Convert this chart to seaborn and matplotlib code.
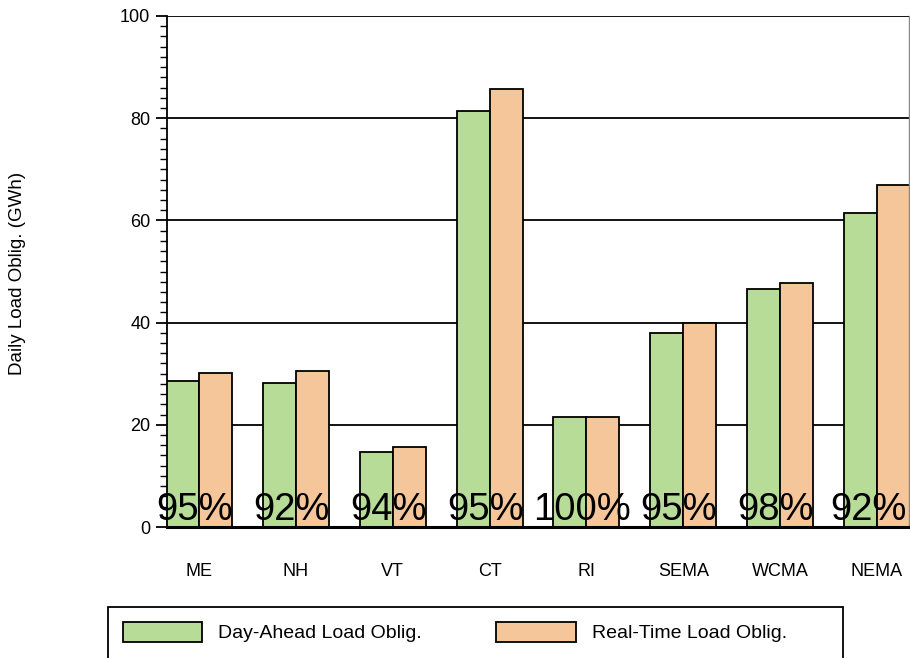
import matplotlib
matplotlib.use("Agg")
import matplotlib.pyplot as plt
from matplotlib.patches import Rectangle
from matplotlib.ticker import MultipleLocator
import seaborn as sns
import pandas as pd

zones = ["ME", "NH", "VT", "CT", "RI", "SEMA", "WCMA", "NEMA"]
day_ahead = [28.6, 28.2, 14.7, 81.4, 21.6, 37.9, 46.6, 61.4]
real_time = [30.1, 30.5, 15.6, 85.7, 21.6, 39.9, 47.7, 66.9]
pct_labels = ["95%", "92%", "94%", "95%", "100%", "95%", "98%", "92%"]
series = ["Day-Ahead Load Oblig.", "Real-Time Load Oblig."]
colors = ["#b7dc97", "#f5c69a"]

df = pd.DataFrame({
    "zone": zones * 2,
    "value": day_ahead + real_time,
    "series": [series[0]] * len(zones) + [series[1]] * len(zones),
})

sns.set_theme(style="white")
plt.rcParams["font.family"] = ["Liberation Sans", "DejaVu Sans"]
plt.rcParams["text.color"] = "black"
plt.rcParams["xtick.color"] = "black"
plt.rcParams["ytick.color"] = "black"

W, H = 910, 658
fig = plt.figure(figsize=(W / 100, H / 100), dpi=100)
ax = fig.add_axes([167 / W, 1 - 527 / H, (909 - 167) / W, (527 - 16) / H])

sns.barplot(data=df, x="zone", y="value", hue="series", palette=colors,
            order=zones, hue_order=series, width=0.68, gap=0,
            edgecolor="black", linewidth=1.3, saturation=1, ax=ax, legend=True)

ax.set_xlim(-0.33, 7.33)
ax.set_ylim(0, 100)
ax.yaxis.set_major_locator(MultipleLocator(20))
ax.yaxis.set_minor_locator(MultipleLocator(2))
ax.set_axisbelow(True)
ax.grid(axis="y", which="major", color="black", linewidth=1.3)
ax.grid(axis="x", visible=False)

ax.spines["top"].set_visible(False)
ax.spines["left"].set_color("black")
ax.spines["left"].set_linewidth(1.3)
ax.spines["bottom"].set_color("black")
ax.spines["bottom"].set_linewidth(2.2)
ax.spines["right"].set_color("#888888")
ax.spines["right"].set_linewidth(1.0)

ax.tick_params(axis="y", which="major", direction="out", length=8, width=1.3,
               colors="black", left=True, labelsize=13, pad=4)
ax.tick_params(axis="y", which="minor", direction="out", length=5, width=1.0,
               colors="black", left=True)
ax.tick_params(axis="x", length=0, labelsize=13, pad=26, colors="black")

ax.set_xlabel("")
ax.set_ylabel("")
fig.text(18 / W, 1 - 273 / H, "Daily Load Oblig. (GWh)", rotation=90,
         ha="center", va="center", fontsize=13.5, color="black")

# share-of-real-time labels sit at the foot of each zone's pair of bars
last = len(pct_labels) - 1
for i, lab in enumerate(pct_labels):
    x = i - (0.085 if i == last else 0.045)
    ax.text(x, 1.3, lab, ha="center", va="baseline", fontsize=27.5,
            color="black", zorder=5)

handles, labels = ax.get_legend_handles_labels()
ax.get_legend().remove()
leg = fig.legend(handles, labels, loc="upper left",
                 bbox_to_anchor=(108 / W, 1 - 607 / H), ncol=2,
                 frameon=False, fontsize=14,
                 handlelength=4.1, handleheight=1.2, handletextpad=0.8,
                 columnspacing=3.85, borderpad=0.75, borderaxespad=0)
for h in leg.legend_handles:
    h.set_edgecolor("black")
    h.set_linewidth(1.3)

# legend box, running off the bottom of the figure
fig.patches.append(Rectangle((108 / W, -0.05), (843 - 108) / W,
                             0.05 + (1 - 607 / H), transform=fig.transFigure,
                             fill=False, edgecolor="black", linewidth=1.3))

fig.savefig("out.png", dpi=100)
